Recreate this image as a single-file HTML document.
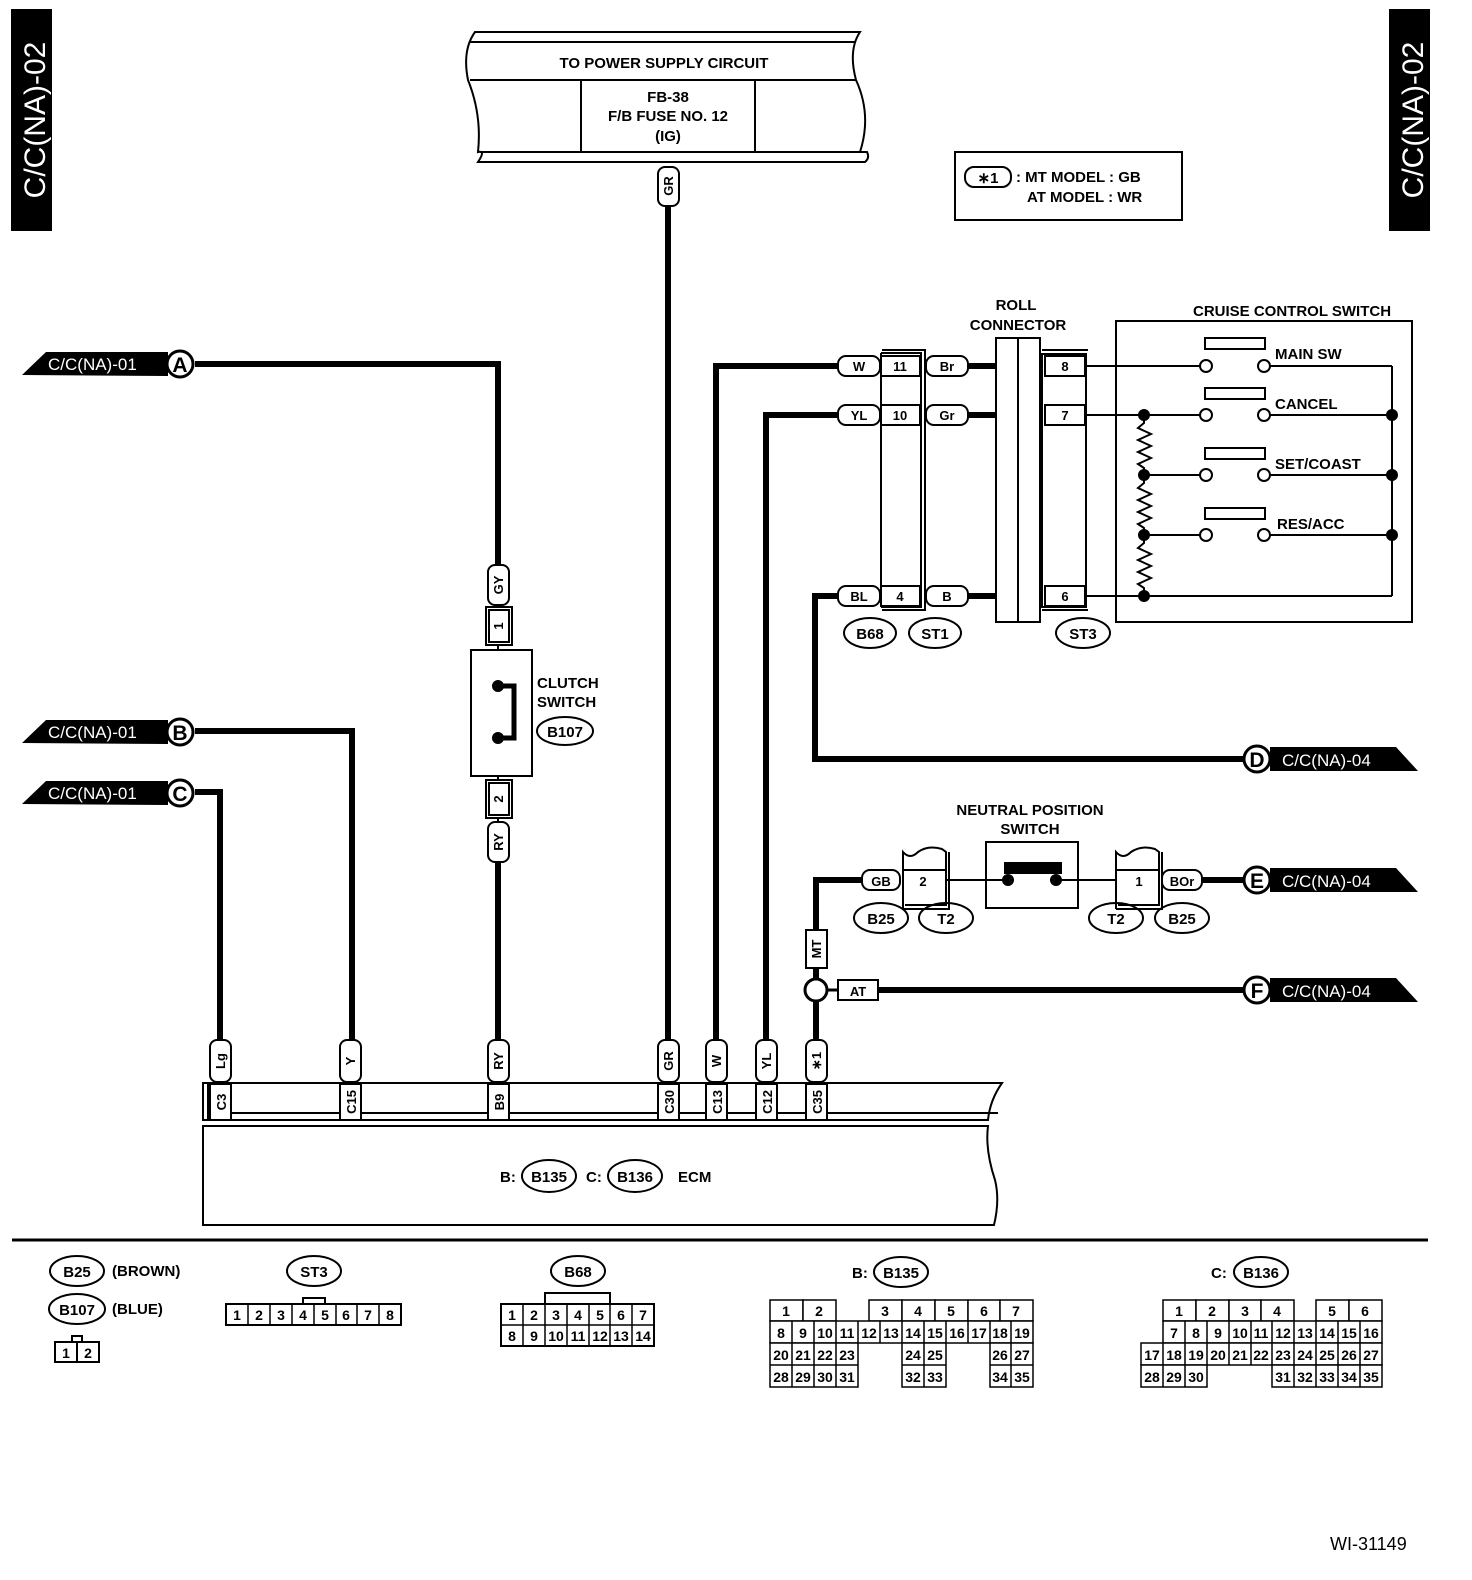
<!DOCTYPE html>
<html><head><meta charset="utf-8"><style>
html,body{margin:0;padding:0;background:#fff;overflow:hidden;width:1472px;height:1580px;}
svg{display:block;}
text{font-family:"Liberation Sans",sans-serif;font-weight:bold;fill:#000;}
.s{font-size:15px;}
.m{font-size:13px;}
.g{font-size:14px;font-weight:normal;}
.w{fill:#fff;}
</style></head><body>
<svg width="1472" height="1580" viewBox="0 0 1472 1580" xmlns="http://www.w3.org/2000/svg" fill="none" stroke="#000" stroke-width="2">
<rect x="12" y="10" width="39" height="220" fill="#000"/>
<text transform="translate(45,120) rotate(-90)" text-anchor="middle" class="w" stroke="none" style="font-size:30px;font-weight:normal">C/C(NA)-02</text>
<rect x="1390" y="10" width="39" height="220" fill="#000"/>
<text transform="translate(1423,120) rotate(-90)" text-anchor="middle" class="w" stroke="none" style="font-size:30px;font-weight:normal">C/C(NA)-02</text>

<path d="M475,32 L860,32 Q848,50 856,80 Q872,115 860,152 L867,152 Q870,158 865,162 L478,162 Q486,150 478,152 Q482,115 468,80 Q462,50 475,32 Z" fill="#fff"/>
<line x1="470" y1="42" x2="856" y2="42"/>
<line x1="470" y1="80" x2="856" y2="80"/>
<line x1="480" y1="152" x2="862" y2="152"/>
<line x1="581" y1="80" x2="581" y2="152"/>
<line x1="755" y1="80" x2="755" y2="152"/>
<text x="664" y="68" text-anchor="middle" class="s" stroke="none">TO POWER SUPPLY CIRCUIT</text>
<text x="668" y="102" text-anchor="middle" class="s" stroke="none">FB-38</text>
<text x="668" y="121" text-anchor="middle" class="s" stroke="none">F/B FUSE NO. 12</text>
<text x="668" y="141" text-anchor="middle" class="s" stroke="none">(IG)</text>

<rect x="955" y="152" width="227" height="68"/>
<rect x="965" y="167" width="46" height="20" rx="9"/>
<text x="988" y="183" text-anchor="middle" class="s" stroke="none">∗1</text>
<text x="1016" y="182" class="s" stroke="none">: MT MODEL  : GB</text>
<text x="1027" y="202" class="s" stroke="none">AT MODEL  : WR</text>

<g stroke-width="6" stroke-linejoin="miter">
<polyline points="668,205 668,1040"/>
<polyline points="195,364 498,364 498,565"/>
<polyline points="498,862 498,1040"/>
<polyline points="195,731 352,731 352,1040"/>
<polyline points="195,792 220,792 220,1040"/>
<polyline points="838,366 716,366 716,1040"/>
<polyline points="838,415 766,415 766,1040"/>
<polyline points="838,596 815,596 815,759 1245,759"/>
<polyline points="862,880 816,880 816,930"/>
<polyline points="816,968 816,978"/>
<polyline points="816,1002 816,1040"/>
<polyline points="878,990 1245,990"/>
<polyline points="1202,880 1245,880"/>
<line x1="968" y1="366" x2="996" y2="366"/>
<line x1="968" y1="415" x2="996" y2="415"/>
<line x1="968" y1="596" x2="996" y2="596"/>
</g>

<g>
<polygon points="22,375 46,352 168,352 168,376" fill="#000" stroke="none"/>
<text x="48" y="370" class="w" stroke="none" style="font-size:17px;font-weight:normal">C/C(NA)-01</text>
<circle cx="180" cy="364" r="13" fill="#fff" stroke-width="3"/>
<text x="180" y="372" text-anchor="middle" stroke="none" style="font-size:21px">A</text>
<polygon points="22,743 46,720 168,720 168,744" fill="#000" stroke="none"/>
<text x="48" y="738" class="w" stroke="none" style="font-size:17px;font-weight:normal">C/C(NA)-01</text>
<circle cx="180" cy="732" r="13" fill="#fff" stroke-width="3"/>
<text x="180" y="740" text-anchor="middle" stroke="none" style="font-size:21px">B</text>
<polygon points="22,804 46,781 168,781 168,805" fill="#000" stroke="none"/>
<text x="48" y="799" class="w" stroke="none" style="font-size:17px;font-weight:normal">C/C(NA)-01</text>
<circle cx="180" cy="793" r="13" fill="#fff" stroke-width="3"/>
<text x="180" y="801" text-anchor="middle" stroke="none" style="font-size:21px">C</text>
</g>
<g>
<polygon points="1270,747 1396,747 1418,771 1270,771" fill="#000" stroke="none"/>
<text x="1282" y="766" class="w" stroke="none" style="font-size:17px;font-weight:normal">C/C(NA)-04</text>
<circle cx="1257" cy="759" r="13" fill="#fff" stroke-width="3"/>
<text x="1257" y="767" text-anchor="middle" stroke="none" style="font-size:21px">D</text>
<polygon points="1270,868 1396,868 1418,892 1270,892" fill="#000" stroke="none"/>
<text x="1282" y="887" class="w" stroke="none" style="font-size:17px;font-weight:normal">C/C(NA)-04</text>
<circle cx="1257" cy="880" r="13" fill="#fff" stroke-width="3"/>
<text x="1257" y="888" text-anchor="middle" stroke="none" style="font-size:21px">E</text>
<polygon points="1270,978 1396,978 1418,1002 1270,1002" fill="#000" stroke="none"/>
<text x="1282" y="997" class="w" stroke="none" style="font-size:17px;font-weight:normal">C/C(NA)-04</text>
<circle cx="1257" cy="990" r="13" fill="#fff" stroke-width="3"/>
<text x="1257" y="998" text-anchor="middle" stroke="none" style="font-size:21px">F</text>
</g>

<g fill="#fff">
<rect x="658" y="167" width="21" height="39" rx="7"/>
<rect x="488" y="565" width="21" height="40" rx="7"/>
<rect x="488" y="822" width="21" height="40" rx="7"/>
<rect x="210" y="1040" width="21" height="42" rx="7"/>
<rect x="340" y="1040" width="21" height="42" rx="7"/>
<rect x="488" y="1040" width="21" height="42" rx="7"/>
<rect x="658" y="1040" width="21" height="42" rx="7"/>
<rect x="706" y="1040" width="21" height="42" rx="7"/>
<rect x="756" y="1040" width="21" height="42" rx="7"/>
<rect x="806" y="1040" width="21" height="42" rx="7"/>
<rect x="806" y="930" width="21" height="38"/>
</g>
<g stroke="none" class="m" text-anchor="middle">
<text transform="translate(673,186) rotate(-90)">GR</text>
<text transform="translate(503,585) rotate(-90)">GY</text>
<text transform="translate(503,842) rotate(-90)">RY</text>
<text transform="translate(225,1061) rotate(-90)">Lg</text>
<text transform="translate(355,1061) rotate(-90)">Y</text>
<text transform="translate(503,1061) rotate(-90)">RY</text>
<text transform="translate(673,1061) rotate(-90)">GR</text>
<text transform="translate(721,1061) rotate(-90)">W</text>
<text transform="translate(771,1061) rotate(-90)">YL</text>
<text transform="translate(821,1061) rotate(-90)">∗1</text>
<text transform="translate(821,949) rotate(-90)">MT</text>
</g>

<rect x="486" y="607" width="26" height="38" fill="#fff"/>
<rect x="489" y="610" width="20" height="32"/>
<text transform="translate(503,626) rotate(-90)" text-anchor="middle" class="m" stroke="none">1</text>
<rect x="471" y="650" width="61" height="126" fill="#fff"/>
<line x1="498" y1="645" x2="498" y2="650"/><line x1="498" y1="776" x2="498" y2="780"/>
<rect x="486" y="780" width="26" height="38" fill="#fff"/>
<rect x="489" y="783" width="20" height="32"/>
<text transform="translate(503,799) rotate(-90)" text-anchor="middle" class="m" stroke="none">2</text>
<line x1="498" y1="818" x2="498" y2="822"/>
<polyline points="498,686 514,686 514,738 498,738" stroke-width="5"/>
<circle cx="498" cy="686" r="5" fill="#000"/><circle cx="498" cy="738" r="5" fill="#000"/>
<text x="537" y="688" class="s" stroke="none">CLUTCH</text>
<text x="537" y="707" class="s" stroke="none">SWITCH</text>
<ellipse cx="565" cy="731" rx="28" ry="14"/>
<text x="565" y="737" text-anchor="middle" class="s" stroke="none">B107</text>

<path d="M203,1083 L1002,1083 Q990,1100 988,1120 L203,1120 Z" fill="#fff"/>
<line x1="208" y1="1083" x2="208" y2="1120"/>
<path d="M203,1126 L988,1126 Q985,1150 995,1180 Q1000,1200 994,1225 L203,1225 Z" fill="#fff"/>
<line x1="208" y1="1113" x2="998" y2="1113"/>
<g fill="#fff">
<rect x="210" y="1084" width="21" height="36"/><rect x="340" y="1084" width="21" height="36"/>
<rect x="488" y="1084" width="21" height="36"/><rect x="658" y="1084" width="21" height="36"/>
<rect x="706" y="1084" width="21" height="36"/><rect x="756" y="1084" width="21" height="36"/>
<rect x="806" y="1084" width="21" height="36"/>
</g>
<g stroke="none" class="m" text-anchor="middle">
<text transform="translate(226,1102) rotate(-90)">C3</text>
<text transform="translate(356,1102) rotate(-90)">C15</text>
<text transform="translate(504,1102) rotate(-90)">B9</text>
<text transform="translate(674,1102) rotate(-90)">C30</text>
<text transform="translate(722,1102) rotate(-90)">C13</text>
<text transform="translate(772,1102) rotate(-90)">C12</text>
<text transform="translate(822,1102) rotate(-90)">C35</text>
</g>
<text x="500" y="1182" class="s" stroke="none">B:</text>
<ellipse cx="549" cy="1176" rx="27" ry="16"/>
<text x="549" y="1182" text-anchor="middle" class="s" stroke="none">B135</text>
<text x="586" y="1182" class="s" stroke="none">C:</text>
<ellipse cx="635" cy="1176" rx="27" ry="16"/>
<text x="635" y="1182" text-anchor="middle" class="s" stroke="none">B136</text>
<text x="678" y="1182" class="s" stroke="none">ECM</text>

<g fill="#fff">
<rect x="838" y="356" width="42" height="20" rx="8"/><rect x="926" y="356" width="42" height="20" rx="8"/>
<rect x="838" y="405" width="42" height="20" rx="8"/><rect x="926" y="405" width="42" height="20" rx="8"/>
<rect x="838" y="586" width="42" height="20" rx="8"/><rect x="926" y="586" width="42" height="20" rx="8"/>
</g>
<polyline points="882,350 925,350 925,610 882,610"/>
<polyline points="881,353 921,353 921,607 881,607"/>
<line x1="881" y1="353" x2="881" y2="607"/>
<rect x="881" y="356" width="39" height="20" fill="#fff"/>
<rect x="881" y="405" width="39" height="20" fill="#fff"/>
<rect x="881" y="586" width="39" height="20" fill="#fff"/>
<g stroke="none" class="m" text-anchor="middle">
<text x="859" y="371">W</text><text x="900" y="371">11</text><text x="947" y="371">Br</text>
<text x="859" y="420">YL</text><text x="900" y="420">10</text><text x="947" y="420">Gr</text>
<text x="859" y="601">BL</text><text x="900" y="601">4</text><text x="947" y="601">B</text>
</g>
<rect x="996" y="338" width="44" height="284" fill="#fff"/>
<line x1="1018" y1="338" x2="1018" y2="622"/>
<polyline points="1042,350 1088,350"/><polyline points="1042,610 1088,610"/>
<rect x="1042" y="354" width="44" height="253"/>
<rect x="1045" y="356" width="40" height="20"/>
<rect x="1045" y="405" width="40" height="20"/>
<rect x="1045" y="586" width="40" height="20"/>
<g stroke="none" class="m" text-anchor="middle">
<text x="1065" y="371">8</text><text x="1065" y="420">7</text><text x="1065" y="601">6</text>
</g>
<text x="1016" y="310" text-anchor="middle" class="s" stroke="none">ROLL</text>
<text x="1018" y="330" text-anchor="middle" class="s" stroke="none">CONNECTOR</text>
<g>
<ellipse cx="870" cy="633" rx="26" ry="15"/><text x="870" y="639" text-anchor="middle" class="s" stroke="none">B68</text>
<ellipse cx="935" cy="633" rx="26" ry="15"/><text x="935" y="639" text-anchor="middle" class="s" stroke="none">ST1</text>
<ellipse cx="1083" cy="633" rx="27" ry="15"/><text x="1083" y="639" text-anchor="middle" class="s" stroke="none">ST3</text>
</g>

<text x="1193" y="316" class="s" stroke="none">CRUISE CONTROL SWITCH</text>
<rect x="1116" y="321" width="296" height="301"/>
<line x1="1085" y1="366" x2="1200" y2="366"/>
<line x1="1085" y1="415" x2="1200" y2="415"/>
<line x1="1085" y1="596" x2="1392" y2="596"/>
<line x1="1144" y1="475" x2="1200" y2="475"/>
<line x1="1144" y1="535" x2="1200" y2="535"/>
<line x1="1269" y1="366" x2="1392" y2="366"/>
<line x1="1269" y1="415" x2="1392" y2="415"/>
<line x1="1269" y1="475" x2="1392" y2="475"/>
<line x1="1269" y1="535" x2="1392" y2="535"/>
<line x1="1392" y1="366" x2="1392" y2="596"/>
<g fill="#fff">
<circle cx="1206" cy="366" r="6"/><circle cx="1264" cy="366" r="6"/>
<circle cx="1206" cy="415" r="6"/><circle cx="1264" cy="415" r="6"/>
<circle cx="1206" cy="475" r="6"/><circle cx="1264" cy="475" r="6"/>
<circle cx="1206" cy="535" r="6"/><circle cx="1264" cy="535" r="6"/>
<rect x="1205" y="338" width="60" height="11"/>
<rect x="1205" y="388" width="60" height="11"/>
<rect x="1205" y="448" width="60" height="11"/>
<rect x="1205" y="508" width="60" height="11"/>
</g>
<g fill="#000">
<circle cx="1144" cy="415" r="5"/><circle cx="1144" cy="475" r="5"/><circle cx="1144" cy="535" r="5"/><circle cx="1144" cy="596" r="5"/>
<circle cx="1392" cy="415" r="5"/><circle cx="1392" cy="475" r="5"/><circle cx="1392" cy="535" r="5"/>
</g>
<polyline points="1144,415 1144,423 1138,428 1151,434 1138,440 1151,446 1138,452 1151,458 1138,464 1144,468 1144,475 1144,483 1138,488 1151,494 1138,500 1151,506 1138,512 1151,518 1138,524 1144,528 1144,535 1144,543 1138,548 1151,554 1138,560 1151,566 1138,572 1151,578 1138,584 1144,588 1144,596"/>
<g stroke="none" class="s">
<text x="1275" y="359">MAIN SW</text><text x="1275" y="409">CANCEL</text>
<text x="1275" y="469">SET/COAST</text><text x="1277" y="529">RES/ACC</text>
</g>

<text x="1030" y="815" text-anchor="middle" class="s" stroke="none">NEUTRAL POSITION</text>
<text x="1030" y="834" text-anchor="middle" class="s" stroke="none">SWITCH</text>
<rect x="862" y="870" width="38" height="20" rx="8" fill="#fff"/>
<text x="881" y="886" text-anchor="middle" class="m" stroke="none">GB</text>
<path d="M903,909 L903,852 Q910,860 918,852 Q928,845 942,849 L946,852 L946,905 L905,905" fill="#fff"/>
<polyline points="903,909 949,909 949,852"/>
<line x1="903" y1="870" x2="946" y2="870"/>
<text x="923" y="886" text-anchor="middle" class="m" stroke="none">2</text>
<line x1="946" y1="880" x2="1116" y2="880"/>
<rect x="986" y="842" width="92" height="66" fill="#fff"/>
<rect x="1004" y="862" width="58" height="12" fill="#000" stroke="none"/>
<line x1="946" y1="880" x2="1008" y2="880"/><line x1="1056" y1="880" x2="1116" y2="880"/>
<circle cx="1008" cy="880" r="5" fill="#000"/><circle cx="1056" cy="880" r="5" fill="#000"/>
<path d="M1116,909 L1116,852 Q1123,860 1131,852 Q1141,845 1155,849 L1159,852 L1159,905 L1118,905" fill="#fff"/>
<polyline points="1116,909 1162,909 1162,852"/>
<line x1="1116" y1="870" x2="1159" y2="870"/>
<text x="1139" y="886" text-anchor="middle" class="m" stroke="none">1</text>
<rect x="1162" y="870" width="40" height="20" rx="8" fill="#fff"/>
<text x="1182" y="886" text-anchor="middle" class="m" stroke="none">BOr</text>
<g>
<ellipse cx="881" cy="918" rx="27" ry="15"/><text x="881" y="924" text-anchor="middle" class="s" stroke="none">B25</text>
<ellipse cx="946" cy="918" rx="27" ry="15"/><text x="946" y="924" text-anchor="middle" class="s" stroke="none">T2</text>
<ellipse cx="1116" cy="918" rx="27" ry="15"/><text x="1116" y="924" text-anchor="middle" class="s" stroke="none">T2</text>
<ellipse cx="1182" cy="918" rx="27" ry="15"/><text x="1182" y="924" text-anchor="middle" class="s" stroke="none">B25</text>
</g>
<circle cx="816" cy="990" r="11" fill="#fff" stroke-width="3"/>
<rect x="838" y="980" width="40" height="20" fill="#fff"/>
<text x="858" y="996" text-anchor="middle" class="m" stroke="none">AT</text>
<line x1="827" y1="990" x2="838" y2="990" stroke-width="3"/>

<line x1="12" y1="1240" x2="1428" y2="1240" stroke-width="3"/>

<ellipse cx="77" cy="1271" rx="27" ry="15"/><text x="77" y="1277" text-anchor="middle" class="s" stroke="none">B25</text>
<text x="112" y="1276" class="s" stroke="none">(BROWN)</text>
<ellipse cx="77" cy="1309" rx="28" ry="15"/><text x="77" y="1315" text-anchor="middle" class="s" stroke="none">B107</text>
<text x="112" y="1314" class="s" stroke="none">(BLUE)</text>
<rect x="72" y="1336" width="10" height="6"/>
<rect x="55" y="1342" width="44" height="20"/><line x1="77" y1="1342" x2="77" y2="1362"/>
<g stroke="none" class="g" text-anchor="middle"><text x="66" y="1358">1</text><text x="88" y="1358">2</text></g>

<ellipse cx="314" cy="1271" rx="27" ry="15"/><text x="314" y="1277" text-anchor="middle" class="s" stroke="none">ST3</text>
<rect x="303" y="1298" width="22" height="6"/>
<rect x="226" y="1304" width="175" height="21"/>
<g stroke-width="1.5"><line x1="248" y1="1304" x2="248" y2="1325"/><line x1="270" y1="1304" x2="270" y2="1325"/><line x1="292" y1="1304" x2="292" y2="1325"/><line x1="314" y1="1304" x2="314" y2="1325"/><line x1="336" y1="1304" x2="336" y2="1325"/><line x1="357" y1="1304" x2="357" y2="1325"/><line x1="379" y1="1304" x2="379" y2="1325"/></g>
<g stroke="none" class="g" text-anchor="middle"><text x="237" y="1320">1</text><text x="259" y="1320">2</text><text x="281" y="1320">3</text><text x="303" y="1320">4</text><text x="325" y="1320">5</text><text x="346" y="1320">6</text><text x="368" y="1320">7</text><text x="390" y="1320">8</text></g>

<ellipse cx="578" cy="1271" rx="27" ry="15"/><text x="578" y="1277" text-anchor="middle" class="s" stroke="none">B68</text>
<polyline points="545,1304 545,1293 610,1293 610,1304"/>
<rect x="501" y="1304" width="153" height="42"/>
<g stroke-width="1.5"><line x1="501" y1="1325" x2="654" y2="1325"/>
<line x1="523" y1="1304" x2="523" y2="1346"/><line x1="545" y1="1304" x2="545" y2="1346"/><line x1="567" y1="1304" x2="567" y2="1346"/><line x1="589" y1="1304" x2="589" y2="1346"/><line x1="610" y1="1304" x2="610" y2="1346"/><line x1="632" y1="1304" x2="632" y2="1346"/></g>
<g stroke="none" class="g" text-anchor="middle">
<text x="512" y="1320">1</text><text x="534" y="1320">2</text><text x="556" y="1320">3</text><text x="578" y="1320">4</text><text x="600" y="1320">5</text><text x="621" y="1320">6</text><text x="643" y="1320">7</text>
<text x="512" y="1341">8</text><text x="534" y="1341">9</text><text x="556" y="1341">10</text><text x="578" y="1341">11</text><text x="600" y="1341">12</text><text x="621" y="1341">13</text><text x="643" y="1341">14</text>
</g>

<text x="852" y="1278" class="s" stroke="none">B:</text>
<ellipse cx="901" cy="1272" rx="27" ry="15"/><text x="901" y="1278" text-anchor="middle" class="s" stroke="none">B135</text>
<g stroke-width="1.5" fill="#fff">
<rect x="770" y="1300" width="33" height="21"/><rect x="803" y="1300" width="33" height="21"/>
<rect x="869" y="1300" width="33" height="21"/><rect x="902" y="1300" width="33" height="21"/><rect x="935" y="1300" width="33" height="21"/><rect x="968" y="1300" width="32" height="21"/><rect x="1000" y="1300" width="33" height="21"/>
<rect x="770" y="1321" width="263" height="22"/>
<rect x="770" y="1343" width="88" height="44"/><rect x="902" y="1343" width="44" height="44"/><rect x="990" y="1343" width="43" height="44"/>
</g>
<g stroke-width="1.5">
<line x1="792" y1="1321" x2="792" y2="1387"/><line x1="814" y1="1321" x2="814" y2="1387"/><line x1="836" y1="1321" x2="836" y2="1387"/><line x1="858" y1="1321" x2="858" y2="1343"/><line x1="880" y1="1321" x2="880" y2="1343"/><line x1="902" y1="1321" x2="902" y2="1343"/><line x1="924" y1="1321" x2="924" y2="1387"/><line x1="946" y1="1321" x2="946" y2="1343"/><line x1="968" y1="1321" x2="968" y2="1343"/><line x1="990" y1="1321" x2="990" y2="1343"/><line x1="1011" y1="1321" x2="1011" y2="1387"/>
<line x1="770" y1="1365" x2="858" y2="1365"/><line x1="902" y1="1365" x2="946" y2="1365"/><line x1="990" y1="1365" x2="1033" y2="1365"/>
</g>
<g stroke="none" class="g" text-anchor="middle">
<text x="786" y="1316">1</text><text x="819" y="1316">2</text><text x="885" y="1316">3</text><text x="918" y="1316">4</text><text x="951" y="1316">5</text><text x="984" y="1316">6</text><text x="1016" y="1316">7</text>
<text x="781" y="1338">8</text><text x="803" y="1338">9</text><text x="825" y="1338">10</text><text x="847" y="1338">11</text><text x="869" y="1338">12</text><text x="891" y="1338">13</text><text x="913" y="1338">14</text><text x="935" y="1338">15</text><text x="957" y="1338">16</text><text x="979" y="1338">17</text><text x="1000" y="1338">18</text><text x="1022" y="1338">19</text>
<text x="781" y="1360">20</text><text x="803" y="1360">21</text><text x="825" y="1360">22</text><text x="847" y="1360">23</text><text x="913" y="1360">24</text><text x="935" y="1360">25</text><text x="1000" y="1360">26</text><text x="1022" y="1360">27</text>
<text x="781" y="1382">28</text><text x="803" y="1382">29</text><text x="825" y="1382">30</text><text x="847" y="1382">31</text><text x="913" y="1382">32</text><text x="935" y="1382">33</text><text x="1000" y="1382">34</text><text x="1022" y="1382">35</text>
</g>

<text x="1211" y="1278" class="s" stroke="none">C:</text>
<ellipse cx="1261" cy="1272" rx="27" ry="15"/><text x="1261" y="1278" text-anchor="middle" class="s" stroke="none">B136</text>
<g stroke-width="1.5" fill="#fff">
<rect x="1163" y="1300" width="33" height="21"/><rect x="1196" y="1300" width="33" height="21"/><rect x="1229" y="1300" width="32" height="21"/><rect x="1261" y="1300" width="33" height="21"/>
<rect x="1316" y="1300" width="33" height="21"/><rect x="1349" y="1300" width="33" height="21"/>
<rect x="1163" y="1321" width="219" height="22"/>
<rect x="1141" y="1343" width="241" height="22"/>
<rect x="1141" y="1365" width="66" height="22"/><rect x="1272" y="1365" width="110" height="22"/>
</g>
<g stroke-width="1.5">
<line x1="1185" y1="1321" x2="1185" y2="1343"/><line x1="1207" y1="1321" x2="1207" y2="1343"/><line x1="1229" y1="1321" x2="1229" y2="1343"/><line x1="1251" y1="1321" x2="1251" y2="1343"/><line x1="1272" y1="1321" x2="1272" y2="1343"/><line x1="1294" y1="1321" x2="1294" y2="1343"/><line x1="1316" y1="1321" x2="1316" y2="1343"/><line x1="1338" y1="1321" x2="1338" y2="1343"/><line x1="1360" y1="1321" x2="1360" y2="1343"/>
<line x1="1163" y1="1343" x2="1163" y2="1387"/><line x1="1185" y1="1343" x2="1185" y2="1387"/><line x1="1207" y1="1343" x2="1207" y2="1365"/><line x1="1229" y1="1343" x2="1229" y2="1365"/><line x1="1251" y1="1343" x2="1251" y2="1365"/><line x1="1272" y1="1343" x2="1272" y2="1365"/><line x1="1294" y1="1343" x2="1294" y2="1387"/><line x1="1316" y1="1343" x2="1316" y2="1387"/><line x1="1338" y1="1343" x2="1338" y2="1387"/><line x1="1360" y1="1343" x2="1360" y2="1387"/>
</g>
<g stroke="none" class="g" text-anchor="middle">
<text x="1179" y="1316">1</text><text x="1212" y="1316">2</text><text x="1245" y="1316">3</text><text x="1277" y="1316">4</text><text x="1332" y="1316">5</text><text x="1365" y="1316">6</text>
<text x="1174" y="1338">7</text><text x="1196" y="1338">8</text><text x="1218" y="1338">9</text><text x="1240" y="1338">10</text><text x="1261" y="1338">11</text><text x="1283" y="1338">12</text><text x="1305" y="1338">13</text><text x="1327" y="1338">14</text><text x="1349" y="1338">15</text><text x="1371" y="1338">16</text>
<text x="1152" y="1360">17</text><text x="1174" y="1360">18</text><text x="1196" y="1360">19</text><text x="1218" y="1360">20</text><text x="1240" y="1360">21</text><text x="1261" y="1360">22</text><text x="1283" y="1360">23</text><text x="1305" y="1360">24</text><text x="1327" y="1360">25</text><text x="1349" y="1360">26</text><text x="1371" y="1360">27</text>
<text x="1152" y="1382">28</text><text x="1174" y="1382">29</text><text x="1196" y="1382">30</text><text x="1283" y="1382">31</text><text x="1305" y="1382">32</text><text x="1327" y="1382">33</text><text x="1349" y="1382">34</text><text x="1371" y="1382">35</text>
</g>

<text x="1330" y="1550" stroke="none" style="font-size:18px;font-weight:normal">WI-31149</text>
</svg>
</body></html>
